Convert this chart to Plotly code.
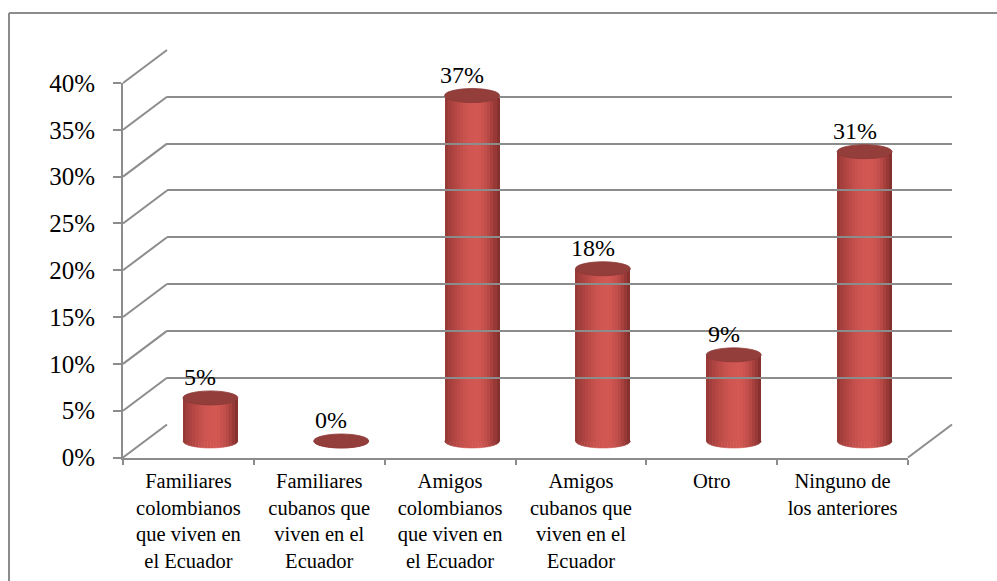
import math
import plotly.graph_objects as go

# ---------------- data ----------------
categories = [
    "Familiares<br>colombianos<br>que viven en<br>el Ecuador",
    "Familiares<br>cubanos que<br>viven en el<br>Ecuador",
    "Amigos<br>colombianos<br>que viven en<br>el Ecuador",
    "Amigos<br>cubanos que<br>viven en el<br>Ecuador",
    "Otro",
    "Ninguno de<br>los anteriores",
]
values = [4.6, 0.0, 36.9, 18.4, 9.2, 30.9]
y_ticks = [0, 5, 10, 15, 20, 25, 30, 35, 40]
y_tick_text = [f"{v}%" for v in y_ticks]

# ---------------- layout geometry ----------------
W, H = 997, 581
FX0, FX1 = 123, 908          # front plane x extent (pixels)
FY0, FY1 = 457.5, 83         # front plane y of 0% and 40% (pixels)
DX, DY = 44, -33             # depth offset front -> back wall
YMAX = 40
PX_PER_UNIT = (FY0 - FY1) / YMAX
GRID = "#8c8c8c"
FONT = "Liberation Serif"

def px(x):
    return x / W

def py(y):
    return 1 - y / H

MX0, MX1 = FX0 + DX / 2, FX1 + DX / 2
MY0 = FY0 + DY / 2
Y_LO, Y_HI = -3, 42
mid_dom_y = [py(MY0 + (0 - Y_LO) * PX_PER_UNIT), py(MY0 - Y_HI * PX_PER_UNIT)]

BAR_W = 0.42
RY = 7 / PX_PER_UNIT
N = 18

DARK = (0x7a, 0x2a, 0x28)
LIGHT = (0xd3, 0x57, 0x53)

def shade(t):
    p = 0.58
    if t < p:
        f = 0.30 + 0.70 * math.sin(math.pi / 2 * t / p)
    else:
        f = 0.05 + 0.95 * math.cos(math.pi / 2 * (t - p) / (1 - p))
    c = [round(d + (l - d) * f) for d, l in zip(DARK, LIGHT)]
    return "rgb(%d,%d,%d)" % tuple(c)

fig = go.Figure()
xs = list(range(len(categories)))

shapes = []
sw = BAR_W / N
for k in range(N):
    a = -BAR_W / 2 + k * sw
    b = a + sw
    col = shade((k + 0.5) / N)
    wk = sw * (1.25 if k < N - 1 else 1.0)
    fig.add_trace(go.Bar(
        x=xs, y=values, xaxis="x", yaxis="y",
        offset=[a] * len(xs), width=[wk] * len(xs),
        marker=dict(color=col, line=dict(width=0)),
        hoverinfo="skip", showlegend=False,
    ))
    for i in xs:
        pts = []
        steps = 4
        for s in range(steps + 1):
            xx = a + (b - a) * s / steps
            r = max(0.0, 1 - (xx / (BAR_W / 2)) ** 2)
            pts.append((i + xx, -RY * math.sqrt(r)))
        path = f"M {i + a},0 L {i + b},0 "
        for (xx, yy) in reversed(pts):
            path += f"L {xx},{yy} "
        path += "Z"
        shapes.append(dict(type="path", xref="x", yref="y", path=path,
                           fillcolor=col, line=dict(color=col, width=0.6)))

for i, v in zip(xs, values):
    shapes.append(dict(type="circle", xref="x", yref="y",
                       x0=i - BAR_W / 2, x1=i + BAR_W / 2,
                       y0=v - RY, y1=v + RY,
                       fillcolor="#933e3b", line=dict(color="#8a3836", width=0.8)))

fig.add_trace(go.Scatter(x=categories, y=[0] * len(categories), xaxis="x2", yaxis="y2",
                         mode="markers", marker=dict(opacity=0), hoverinfo="skip",
                         showlegend=False))
fig.add_trace(go.Scatter(x=[0, 1], y=[0, 0], xaxis="x3", yaxis="y3",
                         mode="markers", marker=dict(opacity=0), hoverinfo="skip",
                         showlegend=False))

for v in y_ticks:
    yf = FY0 - v * PX_PER_UNIT
    shapes.append(dict(type="line", xref="paper", yref="paper",
                       x0=px(FX0), y0=py(yf), x1=px(FX0 + DX), y1=py(yf + DY),
                       line=dict(color=GRID, width=2)))
shapes.append(dict(type="line", xref="paper", yref="paper",
                   x0=px(FX1), y0=py(FY0), x1=px(FX1 + DX), y1=py(FY0 + DY),
                   line=dict(color=GRID, width=2)))
shapes.append(dict(type="line", xref="paper", yref="paper",
                   x0=px(9), y0=py(13), x1=1.01, y1=py(13),
                   line=dict(color=GRID, width=2)))
shapes.append(dict(type="line", xref="paper", yref="paper",
                   x0=px(9), y0=py(13), x1=px(9), y1=-0.01,
                   line=dict(color=GRID, width=2)))

annotations = []
for i, v in zip(xs, values):
    annotations.append(dict(x=i, y=v, xref="x", yref="y", text=f"{v:.0f}%",
                            showarrow=False, yanchor="bottom", xanchor="center",
                            yshift=RY * PX_PER_UNIT - 1, xshift=-10,
                            font=dict(family=FONT, size=24, color="#000")))

fig.update_layout(
    width=W, height=H, autosize=False,
    margin=dict(l=0, r=0, t=0, b=0, pad=0, autoexpand=False),
    paper_bgcolor="white", plot_bgcolor="rgba(0,0,0,0)",
    barmode="overlay", bargap=0,
    showlegend=False,
    shapes=shapes, annotations=annotations,
    font=dict(family=FONT, color="#000"),
    xaxis=dict(domain=[px(MX0), px(MX1)], range=[-0.5, 5.5], visible=False,
               anchor="y", fixedrange=True, automargin=False),
    yaxis=dict(domain=mid_dom_y, range=[Y_LO, Y_HI], visible=False,
               anchor="x", fixedrange=True, automargin=False),
    xaxis2=dict(domain=[px(FX0), px(FX1)], type="category", categoryorder="array",
                categoryarray=categories, range=[-0.5, 5.5], anchor="y2",
                tickson="boundaries", ticks="outside", ticklen=5, tickwidth=2,
                tickcolor=GRID, showline=True, linecolor=GRID, linewidth=2,
                showgrid=False, zeroline=False, ticklabelstandoff=4, automargin=False,
                tickfont=dict(family=FONT, size=20.5, color="#000"), fixedrange=True),
    yaxis2=dict(domain=[py(FY0), py(FY1)], range=[0, YMAX], anchor="x2",
                tickvals=y_ticks, ticktext=y_tick_text, ticks="outside", ticklen=8,
                tickwidth=2, tickcolor=GRID, showline=True, linecolor=GRID, linewidth=2,
                showgrid=False, zeroline=False, ticklabelstandoff=13, automargin=False,
                tickfont=dict(family=FONT, size=25, color="#000"), fixedrange=True),
    xaxis3=dict(domain=[px(FX0 + DX), px(FX1 + DX)], range=[0, 1], anchor="y3",
                visible=False, fixedrange=True, automargin=False),
    yaxis3=dict(domain=[py(FY0 + DY), py(FY1 + DY)], range=[0, YMAX], anchor="x3",
                tickvals=y_ticks, showticklabels=False, ticks="", showline=False,
                showgrid=True, gridcolor=GRID, gridwidth=2, zeroline=False,
                fixedrange=True, automargin=False),
)

fig.write_html("out.html", config={"displayModeBar": False},
               post_script="document.body.style.margin='0';document.body.style.overflow='hidden';")
